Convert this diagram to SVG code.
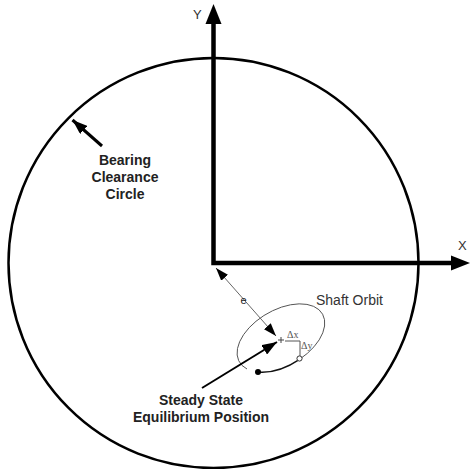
<svg xmlns="http://www.w3.org/2000/svg" width="470" height="469" viewBox="0 0 470 469">
<style>
.lbl{font-family:"Liberation Sans",Arial,sans-serif;font-size:14px;font-weight:bold;fill:#222;text-anchor:middle}
.ax{font-family:"Liberation Sans",Arial,sans-serif;font-size:13px;fill:#333}
.sm{font-family:"Liberation Serif","Times New Roman",serif;font-size:10px;fill:#555}
</style>
<defs>
<marker id="ah" viewBox="0 0 13 9" refX="13" refY="4.5" markerWidth="13" markerHeight="9" markerUnits="userSpaceOnUse" orient="auto-start-reverse">
<path d="M0,0 L13,4.5 L0,9 Z" fill="#000"/>
</marker>
<marker id="ahb" viewBox="0 0 15 11" refX="15" refY="5.5" markerWidth="15" markerHeight="11" markerUnits="userSpaceOnUse" orient="auto">
<path d="M0,0 L15,5.5 L0,11 Z" fill="#000"/>
</marker>
</defs>
<rect width="470" height="469" fill="#fff"/>
<g id="bearing-circle">
<circle cx="213.5" cy="263" r="205" fill="none" stroke="#000" stroke-width="2.5"/>
</g>
<g id="axes">
<path d="M213.5,22 V263 H452" fill="none" stroke="#000" stroke-width="4.5" stroke-linejoin="miter"/>
<polygon points="213.5,4 205.5,24 221.5,24" fill="#000"/>
<polygon points="470,263 451,255.5 451,270.5" fill="#000"/>
<text class="ax" x="193" y="19">Y</text>
<text class="ax" x="458" y="250">X</text>
</g>
<g id="shaft-orbit">
<path d="M258,372 A48,28 -30 0 0 299.6,359.3" fill="none" stroke="#111" stroke-width="1.4"/>
<path d="M299.6,359.3 A48,28 -30 1 0 247,369" fill="none" stroke="#555" stroke-width="1"/>
<circle cx="258" cy="372" r="3" fill="#000"/>
<circle cx="299.5" cy="358.5" r="2.6" fill="#fff" stroke="#333" stroke-width="1"/>
<text class="ax" x="316" y="305" style="font-size:14px">Shaft Orbit</text>
</g>
<g id="equilibrium">
<path d="M278,340 h6 M281,337 v6" stroke="#444" stroke-width="1"/>
<path d="M285,341 H300 V356" fill="none" stroke="#555" stroke-width="1"/>
<text class="sm" x="287" y="338">Δx</text>
<text class="sm" x="301" y="349">Δy</text>
</g>
<g id="labels">
<text class="lbl" x="125" y="165">Bearing</text>
<text class="lbl" x="125" y="182">Clearance</text>
<text class="lbl" x="125" y="199">Circle</text>
<text class="lbl" x="201" y="405">Steady State</text>
<text class="lbl" x="201" y="422">Equilibrium Position</text>
</g>
<g id="connectors">
<line x1="102" y1="146" x2="72.5" y2="120" stroke="#000" stroke-width="3" marker-end="url(#ahb)"/>
<line x1="216" y1="268" x2="276" y2="336" stroke="#666" stroke-width="1" marker-start="url(#ah)" marker-end="url(#ah)"/>
<line x1="202" y1="388" x2="277" y2="342" stroke="#000" stroke-width="2" marker-end="url(#ahb)"/>
<text x="243.5" y="304" text-anchor="middle" style="font-family:'Liberation Sans',Arial,sans-serif;font-size:11px;fill:#222">e</text>
</g>
</svg>
